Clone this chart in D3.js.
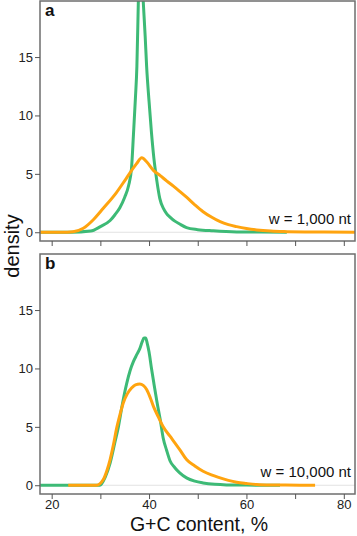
<!DOCTYPE html>
<html>
<head>
<meta charset="utf-8">
<script src="https://cdn.jsdelivr.net/npm/d3@7"></script>
<style>
body{margin:0;background:#fff;}
svg{display:block;font-family:"Liberation Sans",Arial,Helvetica,sans-serif;}
</style>
</head>
<body>
<svg id="c" width="357" height="536"></svg>
<script>
// Panel a (w = 1,000 nt)
const aGreenX = [17.6,24,28,30,32,33,34,35,35.8,36.4,36.8,37.2,37.5,37.8,38.1,38.5,38.8,39.2,39.5,40,40.5,41,41.6,42.2,43,43.6,44.3,45.3,46.3,47.7,50,53.2,58,63,68.3];
const aGreenY = [0,0,0.1,0.48,1.0,1.5,2.1,3.0,4.0,5.5,8.4,11.5,14.2,19.8,25.1,22.2,19.8,16.8,14.2,11.2,8.5,6.3,4.4,2.9,2.0,1.6,1.3,0.95,0.7,0.4,0.22,0.12,0.03,0.01,0];
const aOrangeX = [17.6,22,24.4,26.5,28.5,30.6,33.3,35.3,37.4,38.5,39.5,40.9,42.3,43.6,45,46.3,47.7,49.4,51.1,52.8,54.6,56.3,58,60,62.1,65,68.3,72,76,82.3];
const aOrangeY = [0,0,0.05,0.34,1.05,2.05,3.4,4.6,5.85,6.38,6.03,5.3,4.85,4.4,3.95,3.5,3.0,2.35,1.76,1.3,0.9,0.65,0.48,0.32,0.2,0.1,0.05,0.02,0.01,0];
// Panel b (w = 10,000 nt)
const bGreenX = [17.6,25,29.9,31,32,33,33.7,34.5,35.4,36.1,36.8,37.5,38.1,38.6,38.95,39.3,39.6,40,40.5,41,41.6,42.3,42.9,43.6,44.3,45.3,46.3,47.7,49.4,51.1,53.5,55.9,60,66.9];
const bGreenY = [0,0,0,0.7,1.9,3.7,5.0,6.9,8.7,9.8,10.6,11.2,11.7,12.3,12.6,12.6,12.2,11.4,10.0,8.7,7.2,5.6,4.05,3.0,2.1,1.5,1.06,0.63,0.35,0.2,0.08,0.03,0.01,0];
const bOrangeX = [23.4,27,29.2,30.6,31.3,32,32.7,33.3,34,34.7,35.5,36.4,37.2,38.1,38.8,39.5,40.2,40.9,41.9,42.9,44.3,46.3,47.7,49.4,51.1,52.8,54.6,56.3,58,60,62.1,65,68,71,74.1];
const bOrangeY = [0,0,0,0.49,1.2,2.2,3.5,4.8,6.0,7.04,7.8,8.32,8.6,8.67,8.55,8.2,7.55,6.75,5.85,5.0,4.2,3.05,2.2,1.65,1.2,0.88,0.63,0.42,0.26,0.15,0.06,0.02,0.01,0.005,0];

const xTicks = [20,30,40,50,60,70,80];
const xTickLabels = ["20","","40","","60","","80"];
const yTicks = [0,5,10,15];
const panelLabels = ["a","b"];
const windowLabels = ["w = 1,000 nt","w = 10,000 nt"];

const green = "#3dba76", orange = "#ffa40f";
const svg = d3.select("#c");
const left = 40, right = 355;
const panels = [
  {top:1, bottom:241, g:[aGreenX,aGreenY], o:[aOrangeX,aOrangeY], labels:false, wy:224},
  {top:254, bottom:494, g:[bGreenX,bGreenY], o:[bOrangeX,bOrangeY], labels:true, wy:477}
];
const x = d3.scaleLinear().domain([17.6,82.3]).range([left,right]);

panels.forEach((p,i)=>{
  const y = d3.scaleLinear().domain([-0.75,19.8]).range([p.bottom,p.top]);
  const g = svg.append("g");
  const cid = "clip"+i;
  g.append("clipPath").attr("id",cid).append("rect")
    .attr("x",left).attr("y",p.top).attr("width",right-left).attr("height",p.bottom-p.top);
  // zero line
  g.append("line").attr("x1",left).attr("x2",right).attr("y1",y(0)).attr("y2",y(0))
    .attr("stroke","#e2e2e2").attr("stroke-width",1);
  const line = d3.line().x(d=>x(d[0])).y(d=>y(d[1])).curve(d3.curveMonotoneX);
  const gd = p.g[0].map((v,k)=>[v,p.g[1][k]]);
  const od = p.o[0].map((v,k)=>[v,p.o[1][k]]);
  g.append("path").datum(gd).attr("d",line).attr("fill","none").attr("stroke",green)
    .attr("stroke-width",3).attr("clip-path","url(#"+cid+")");
  g.append("path").datum(od).attr("d",line).attr("fill","none").attr("stroke",orange)
    .attr("stroke-width",3).attr("clip-path","url(#"+cid+")");
  // box
  g.append("rect").attr("x",left).attr("y",p.top).attr("width",right-left).attr("height",p.bottom-p.top)
    .attr("fill","none").attr("stroke","#6e6e6e").attr("stroke-width",1.5);
  // y axis
  const ya = g.append("g").attr("transform",`translate(${left},0)`)
    .call(d3.axisLeft(y).tickValues(yTicks).tickSize(5).tickPadding(2).tickFormat(d3.format("d")));
  ya.select(".domain").remove();
  ya.selectAll("line").attr("stroke","#555");
  ya.selectAll("text").attr("font-size",13).attr("fill","#222").attr("font-family","Liberation Sans, Arial, sans-serif");
  // x axis
  const xa = g.append("g").attr("transform",`translate(0,${p.bottom})`)
    .call(d3.axisBottom(x).tickValues(xTicks).tickSize(5).tickPadding(1)
      .tickFormat((d,k)=>p.labels?xTickLabels[k]:""));
  xa.select(".domain").remove();
  xa.selectAll("line").attr("stroke","#555");
  xa.selectAll("text").attr("font-size",13).attr("fill","#222").attr("font-family","Liberation Sans, Arial, sans-serif");
  // panel letter
  g.append("text").attr("x",45).attr("y",p.top+15).attr("font-size",17).attr("font-weight","bold")
    .attr("fill","#111").text(panelLabels[i]);
  g.append("text").attr("x",351).attr("y",p.wy).attr("text-anchor","end").attr("font-size",15)
    .attr("fill","#111").text(windowLabels[i]);
});

svg.append("text").attr("transform","translate(19,246) rotate(-90)").attr("text-anchor","middle")
  .attr("font-size",20).attr("fill","#111").text("density");
svg.append("text").attr("x",199).attr("y",531).attr("text-anchor","middle")
  .attr("font-size",19.5).attr("fill","#111").text("G+C content, %");
</script>
</body>
</html>
